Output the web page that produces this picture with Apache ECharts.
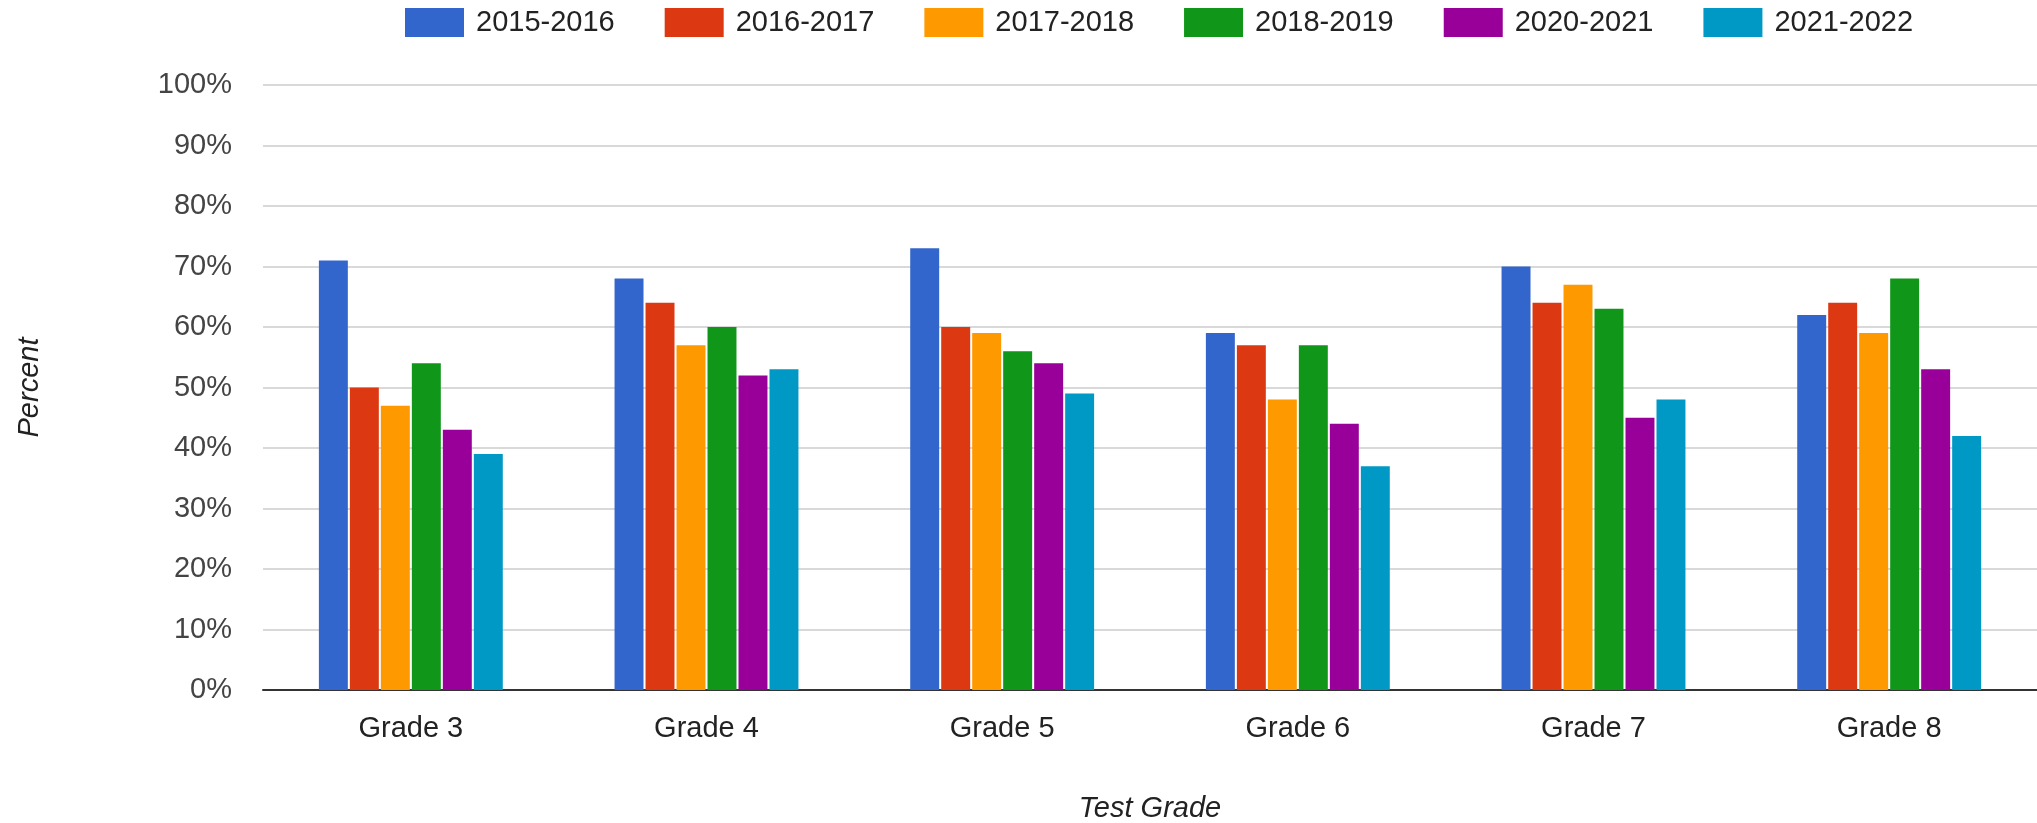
<!DOCTYPE html>
<html>
<head>
<meta charset="utf-8">
<script src="https://cdn.jsdelivr.net/npm/echarts@6/dist/echarts.min.js"></script>
<style>
  html, body { margin: 0; padding: 0; background: #fff; }
  #chart { width: 2037px; height: 823px; }
</style>
</head>
<body>
<div id="chart"></div>
<script>
// categories on the x axis
var grades = ['Grade 3', 'Grade 4', 'Grade 5', 'Grade 6', 'Grade 7', 'Grade 8'];

// one list per school year (percent)
var y2015_2016 = [71, 68, 73, 59, 70, 62];
var y2016_2017 = [50, 64, 60, 57, 64, 64];
var y2017_2018 = [47, 57, 59, 48, 67, 59];
var y2018_2019 = [54, 60, 56, 57, 63, 68];
var y2020_2021 = [43, 52, 54, 44, 45, 53];
var y2021_2022 = [39, 53, 49, 37, 48, 42];

var yearNames = ['2015-2016', '2016-2017', '2017-2018', '2018-2019', '2020-2021', '2021-2022'];
var yearData = [y2015_2016, y2016_2017, y2017_2018, y2018_2019, y2020_2021, y2021_2022];
var colors = ['#3366cc', '#dc3912', '#ff9900', '#109618', '#990099', '#0099c6'];

var font = 'Arial, "Liberation Sans", sans-serif';

var mychart = echarts.init(document.getElementById('chart'));

var series = yearNames.map(function (name, i) {
  return {
    name: name,
    type: 'bar',
    data: yearData[i],
    barGap: '7%',
    barCategoryGap: '37.8%',
    itemStyle: { color: colors[i] }
  };
});

var option = {
  animation: false,
  color: colors,
  legend: {
    top: 3,
    left: 400,
    icon: 'rect',
    itemWidth: 59,
    itemHeight: 29,
    itemGap: 50,
    textStyle: { fontFamily: font, fontSize: 29, color: '#222', padding: [0, 0, 0, 7] },
    data: yearNames
  },
  grid: { left: 263, right: 0, top: 85, bottom: 133, outerBoundsMode: 'none', containLabel: false },
  xAxis: {
    type: 'category',
    data: grades,
    name: 'Test Grade',
    nameLocation: 'middle',
    nameGap: 104,
    nameTextStyle: { fontFamily: font, fontSize: 29, fontStyle: 'italic', color: '#222' },
    axisLine: { lineStyle: { color: '#333', width: 2 } },
    axisTick: { show: false },
    axisLabel: { fontFamily: font, fontSize: 29, color: '#222', margin: 24 }
  },
  yAxis: {
    type: 'value',
    min: 0,
    max: 100,
    interval: 10,
    name: 'Percent',
    nameLocation: 'middle',
    nameRotate: 90,
    nameGap: 219,
    nameTextStyle: { fontFamily: font, fontSize: 29, fontStyle: 'italic', color: '#222' },
    axisLine: { show: false },
    axisTick: { show: false },
    axisLabel: { fontFamily: font, fontSize: 29, color: '#444', margin: 31, formatter: '{value}%' },
    splitLine: { lineStyle: { color: '#cccccc', width: 1.5 } }
  },
  series: series
};

mychart.setOption(option);
</script>
</body>
</html>
